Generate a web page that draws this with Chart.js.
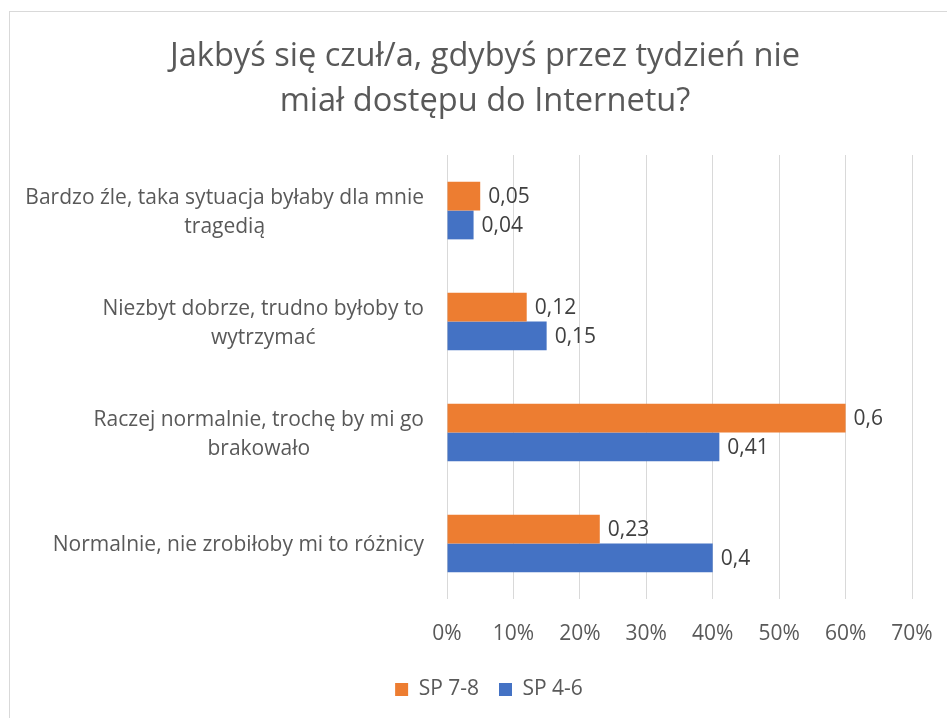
<!DOCTYPE html>
<html>
<head>
<meta charset="utf-8">
<script src="https://cdn.jsdelivr.net/npm/chart.js@4"></script>
<style>
  body { margin: 0; background: #fff; }
  #wrap { position: relative; width: 947px; height: 718px; overflow: hidden; }
  #frame { position: absolute; left: 9px; top: 11px; width: 960px; height: 730px; border: 1px solid #d9d9d9; box-sizing: border-box; }
  canvas { position: absolute; left: 0; top: 0; }
</style>
</head>
<body>
<div id="wrap">
  <div id="frame"></div>
  <canvas id="myChart" width="947" height="718"></canvas>
</div>
<script>
const titleLines = ['Jakbyś się czuł/a, gdybyś przez tydzień nie', 'miał dostępu do Internetu?'];
const categories = [
  ['Bardzo źle, taka sytuacja byłaby dla mnie', 'tragedią'],
  ['Niezbyt dobrze, trudno byłoby to', 'wytrzymać'],
  ['Raczej normalnie, trochę by mi go', 'brakowało'],
  ['Normalnie, nie zrobiłoby mi to różnicy']
];
const sp78 = [0.05, 0.12, 0.6, 0.23];
const sp46 = [0.04, 0.15, 0.41, 0.4];

const FONT = "'Open Sans', sans-serif";

// title drawn by hand so it can sit off-centre like the original
const chartTitle = {
  id: 'chartTitle',
  afterDraw(chart) {
    const ctx = chart.ctx;
    ctx.save();
    ctx.font = '32.6px ' + FONT;
    ctx.fillStyle = '#595959';
    ctx.textAlign = 'center';
    ctx.textBaseline = 'middle';
    titleLines.forEach((t, i) => ctx.fillText(t, 485, 57 + i * 45));
    ctx.restore();
  }
};

// category labels: block right aligned, lines centred inside the block
const catLabels = {
  id: 'catLabels',
  afterDraw(chart) {
    const ctx = chart.ctx;
    const y = chart.scales.y;
    ctx.save();
    ctx.font = '21px ' + FONT;
    ctx.fillStyle = '#595959';
    ctx.textAlign = 'center';
    ctx.textBaseline = 'middle';
    const right = 424, lh = 29;
    categories.forEach((lines, i) => {
      const w = Math.max(...lines.map(l => ctx.measureText(l).width));
      const cx = right - w / 2;
      const cy = y.getPixelForTick(i);
      lines.forEach((l, k) => {
        ctx.fillText(l, cx, cy + (k - (lines.length - 1) / 2) * lh + 2);
      });
    });
    ctx.restore();
  }
};

// value labels at the end of each bar
const valueLabels = {
  id: 'valueLabels',
  afterDatasetsDraw(chart) {
    const ctx = chart.ctx;
    ctx.save();
    ctx.font = '21px ' + FONT;
    ctx.fillStyle = '#404040';
    ctx.textBaseline = 'middle';
    chart.data.datasets.forEach((ds, i) => {
      chart.getDatasetMeta(i).data.forEach((bar, j) => {
        ctx.fillText(String(ds.data[j]).replace('.', ','), bar.x + 8, bar.y + 1);
      });
    });
    ctx.restore();
  }
};

new Chart(document.getElementById('myChart'), {
  type: 'bar',
  data: {
    labels: categories,
    datasets: [
      { label: 'SP 7-8', data: sp78, backgroundColor: '#ED7D31' },
      { label: 'SP 4-6', data: sp46, backgroundColor: '#4472C4' }
    ]
  },
  options: {
    indexAxis: 'y',
    responsive: false,
    animation: false,
    devicePixelRatio: 1,
    layout: { padding: { left: 66, right: 35, top: 155, bottom: 8 } },
    datasets: { bar: { categoryPercentage: 0.52, barPercentage: 1 } },
    scales: {
      x: {
        min: 0, max: 0.7,
        ticks: {
          stepSize: 0.1,
          padding: 0,
          color: '#595959',
          font: { family: FONT, size: 21 },
          callback: v => Math.round(v * 100) + '%'
        },
        grid: { color: '#d9d9d9', lineWidth: 1, drawTicks: true, tickLength: 22, tickColor: 'rgba(0,0,0,0)' },
        border: { display: false },
        afterFit: s => { s.height = 60; }
      },
      y: {
        ticks: { display: false },
        grid: { display: false },
        border: { display: false },
        afterFit: s => { s.width = 381; }
      }
    },
    plugins: {
      title: { display: false },
      legend: {
        position: 'bottom',
        labels: {
          color: '#595959',
          font: { family: FONT, size: 21 },
          boxWidth: 13,
          boxHeight: 13,
          padding: 20
        }
      },
      tooltip: { enabled: false }
    }
  },
  plugins: [chartTitle, catLabels, valueLabels]
});
</script>
</body>
</html>
